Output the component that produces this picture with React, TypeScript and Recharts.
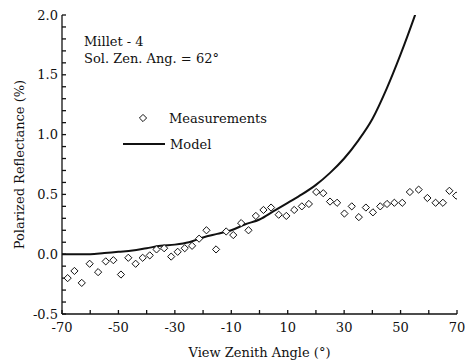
import React from 'react';
import { ComposedChart, Line, Scatter, XAxis, YAxis, Legend, Label } from 'recharts';

const measureAngles = [-68.0, -65.6, -63.0, -60.2, -57.2, -54.5, -51.8, -49.1, -46.5, -43.9, -41.4, -38.9, -36.5, -33.8, -31.3, -29.0, -26.5, -23.9, -21.4, -18.8, -15.4, -11.8, -9.3, -6.5, -3.9, -1.3, 1.4, 4.1, 6.8, 9.5, 12.3, 15.0, 17.5, 20.1, 22.6, 25.0, 27.5, 30.1, 32.7, 35.2, 37.7, 40.2, 42.8, 45.2, 47.8, 50.6, 53.3, 56.4, 59.5, 62.4, 65.0, 67.3, 69.7];
const measureValues = [-0.20, -0.14, -0.24, -0.08, -0.15, -0.06, -0.05, -0.17, -0.03, -0.08, -0.03, -0.01, 0.04, 0.05, -0.02, 0.02, 0.05, 0.07, 0.13, 0.20, 0.04, 0.19, 0.16, 0.26, 0.20, 0.32, 0.37, 0.39, 0.33, 0.32, 0.37, 0.40, 0.42, 0.52, 0.51, 0.44, 0.43, 0.34, 0.40, 0.31, 0.39, 0.35, 0.40, 0.42, 0.43, 0.43, 0.52, 0.54, 0.47, 0.43, 0.43, 0.53, 0.49];

const modelAngles = [-70, -65, -60, -55, -50, -45, -40, -35, -30, -25, -20, -15, -10, -5, 0, 5, 10, 15, 20, 25, 30, 35, 40, 45, 50, 55, 57.5];
const modelValues = [0.00, 0.00, 0.00, 0.01, 0.02, 0.03, 0.05, 0.07, 0.08, 0.10, 0.14, 0.17, 0.20, 0.25, 0.29, 0.36, 0.43, 0.50, 0.58, 0.68, 0.80, 0.95, 1.13, 1.38, 1.67, 1.99, 2.16];

const xTicksBottom = [-70, -60, -50, -40, -30, -20, -10, 0, 10, 20, 30, 40, 50, 60, 70];
const xTickLabels = [-70, -50, -30, -10, 10, 30, 50, 70];
const xTicksTop = [-70, -50, -30, -10, 10, 30, 50, 70];
const yTicks = [-0.5, -0.4, -0.3, -0.2, -0.1, 0.0, 0.1, 0.2, 0.3, 0.4, 0.5, 0.6, 0.7, 0.8, 0.9, 1.0, 1.1, 1.2, 1.3, 1.4, 1.5, 1.6, 1.7, 1.8, 1.9, 2.0];
const yTickLabels = [-0.5, 0.0, 0.5, 1.0, 1.5, 2.0];

const measureData = measureAngles.map((x, i) => ({ x, y: measureValues[i] }));
const modelData = modelAngles.map((x, i) => ({ x, y: modelValues[i] }));

const FONT = '"DejaVu Serif", serif';
const FS = 13;
const tickStyle = { fontFamily: FONT, fontSize: FS, fill: '#111' };

const Diamond = (props: any) => {
  const { cx, cy } = props;
  if (cx == null || cy == null) return null;
  const r = 3.6;
  return (
    <polygon
      points={`${cx},${cy - r} ${cx + r},${cy} ${cx},${cy + r} ${cx - r},${cy}`}
      fill="#fff"
      stroke="#111"
      strokeWidth={1}
    />
  );
};

const LegendContent = () => (
  <svg width={200} height={56} style={{ display: 'block', overflow: 'visible' }}>
    <polygon points="33,14.4 36.6,18 33,21.6 29.4,18" fill="#fff" stroke="#111" strokeWidth={1} />
    <text x={59} y={23} fontFamily={FONT} fontSize={FS} fill="#111">Measurements</text>
    <line x1={13} y1={44} x2={55} y2={44} stroke="#111" strokeWidth={2} />
    <text x={60} y={49} fontFamily={FONT} fontSize={FS} fill="#111">Model</text>
  </svg>
);

export default function App() {
  return (
    <div style={{ position: 'absolute', left: 0, top: 0, width: 465, height: 363, background: '#fff' }}>
      <ComposedChart width={465} height={363} margin={{ top: 15, right: 8, bottom: 0, left: 0 }}>
        <XAxis
          xAxisId="b"
          dataKey="x"
          type="number"
          domain={[-70, 70]}
          ticks={xTicksBottom}
          interval={0}
          height={49}
          tickSize={-4}
          tickMargin={13}
          stroke="#111"
          strokeWidth={1.3}
          tick={tickStyle}
          tickFormatter={(v: number) => (xTickLabels.includes(v) ? String(v) : '')}
          allowDataOverflow
        >
          <Label
            value="View Zenith Angle (°)"
            position="insideBottom"
            offset={6}
            style={{ fontFamily: FONT, fontSize: FS, fill: '#111' }}
          />
        </XAxis>
        <XAxis
          xAxisId="t"
          orientation="top"
          dataKey="x"
          type="number"
          domain={[-70, 70]}
          ticks={xTicksTop}
          interval={0}
          height={0}
          tickSize={-4}
          stroke="#111"
          strokeWidth={1.3}
          tickFormatter={() => ''}
          allowDataOverflow
        />
        <YAxis
          yAxisId="l"
          type="number"
          domain={[-0.5, 2]}
          ticks={yTicks}
          interval={0}
          width={62}
          tickSize={-4}
          tickMargin={8}
          stroke="#111"
          strokeWidth={1.3}
          tick={tickStyle}
          tickFormatter={(v: number) => (yTickLabels.some((t) => Math.abs(t - v) < 1e-6) ? v.toFixed(1) : '')}
          allowDataOverflow
        >
          <Label
            value="Polarized Reflectance (%)"
            angle={-90}
            position="insideLeft"
            offset={19}
            style={{ fontFamily: FONT, fontSize: FS, fill: '#111', textAnchor: 'middle' }}
          />
        </YAxis>
        <YAxis
          yAxisId="r"
          orientation="right"
          type="number"
          domain={[-0.5, 2]}
          ticks={yTicks}
          interval={0}
          width={0}
          tickSize={-4}
          stroke="#111"
          strokeWidth={1.3}
          tickFormatter={() => ''}
          allowDataOverflow
        />
        <Legend
          layout="horizontal"
          verticalAlign="middle"
          align="center"
          content={<LegendContent />}
          wrapperStyle={{ position: 'absolute', left: 110, top: 100, width: 200, height: 56 }}
        />
        <Line
          xAxisId="b"
          yAxisId="l"
          data={modelData}
          dataKey="y"
          type="monotone"
          stroke="#111"
          strokeWidth={2}
          dot={false}
          activeDot={false}
          isAnimationActive={false}
          name="Model"
        />
        <Scatter
          xAxisId="b"
          yAxisId="l"
          data={measureData}
          dataKey="y"
          shape={<Diamond />}
          isAnimationActive={false}
          name="Measurements"
        />
      </ComposedChart>
      <div
        style={{
          position: 'absolute',
          left: 84,
          top: 33,
          fontFamily: FONT,
          fontSize: FS,
          lineHeight: '17px',
          color: '#111',
          whiteSpace: 'nowrap',
        }}
      >
        <div>Millet - 4</div>
        <div>Sol. Zen. Ang. = 62°</div>
      </div>
    </div>
  );
}
